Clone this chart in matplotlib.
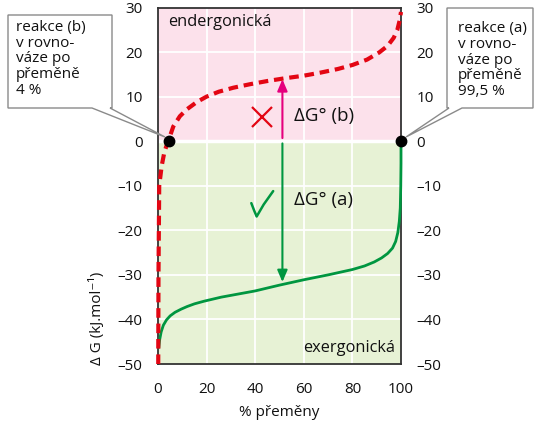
import matplotlib
matplotlib.use("Agg")
import matplotlib.pyplot as plt
from matplotlib.patches import Polygon
from matplotlib.ticker import FuncFormatter

plt.rcParams['font.family'] = ['Open Sans', 'DejaVu Sans']

# ---- data ----
pct_a = [0.3, 0.7, 1.3, 2.2, 3.5, 5, 7, 9.5, 12, 15, 19, 26, 33, 40, 50, 60, 70,
         80, 85, 89, 92, 94.5, 96.5, 97.8, 98.7, 99.3, 99.7, 99.9, 100, 100]
dg_a = [-46.5, -44.5, -42.8, -41.3, -40.1, -39.2, -38.4, -37.7, -37.1, -36.5,
        -35.9, -35.0, -34.3, -33.6, -32.3, -31.1, -30.0, -28.8, -28.0, -27.1,
        -26.2, -25.2, -24.0, -22.5, -20.5, -18.0, -15.0, -10.0, -5.0, 0.0]

pct_b = [0.1, 0.2, 0.5, 1.5, 2.6, 3.7, 4.6, 6.3, 9, 12, 16, 20, 25, 31, 38, 45, 52,
         60, 67, 74, 80, 86, 91, 94.5, 97, 98.5, 99.4, 100]
dg_b = [-50, -30, -10, -5.6, -2.5, -0.7, 0.6, 3.3, 5.6, 7.2, 8.8, 10.0, 11.1, 12.0,
        12.8, 13.5, 14.1, 14.7, 15.4, 16.2, 17.1, 18.3, 19.9, 21.4, 23.2, 25.0, 27.0, 29.0]

eq_b = (4.6, 0)       # equilibrium of reaction (b)
eq_a = (100, 0)       # equilibrium of reaction (a)
arrow_x = 51.2
dg0_b = 13.9
dg0_a = -31.6

check_x = [38.4, 39.6, 40.6, 43.5, 47.4]
check_y = [-13.9, -15.6, -16.9, -14.2, -11.2]

xticks = [0, 20, 40, 60, 80, 100]
yticks = [-50, -40, -30, -20, -10, 0, 10, 20, 30]

label_b = "reakce (b)\nv rovno-\nváze po\npřeměně\n4 %"
label_a = "reakce (a)\nv rovno-\nváze po\npřeměně\n99,5 %"

# ---- colours ----
PINK = "#fce1eb"
LGREEN = "#e7f2d5"
RED = "#e30613"
GREEN = "#009640"
MAGENTA = "#e5007d"
TXT = "#111111"

W, H = 536, 424
fig = plt.figure(figsize=(W / 100, H / 100), dpi=100)
L, R, T, B = 158, 401, 7.5, 364
ax = fig.add_axes([L / W, 1 - B / H, (R - L) / W, (B - T) / H])

def px(x, y):
    return (x / W, 1 - y / H)

ax.set_xlim(0, 100)
ax.set_ylim(-50, 30)
ax.axhspan(0, 30, color=PINK, zorder=0, lw=0)
ax.axhspan(-50, 0, color=LGREEN, zorder=0, lw=0)
for gx in xticks[1:-1]:
    ax.axvline(gx, color="white", lw=1.3, zorder=0.5)
for gy in yticks[1:-1]:
    ax.axhline(gy, color="white", lw=1.3 if gy != 0 else 2.5, zorder=0.5)

for s in ax.spines.values():
    s.set_color("#333333")
    s.set_linewidth(1.3)

ax.set_xticks(xticks)
ax.set_yticks(yticks)
fmt = FuncFormatter(lambda v, p: ("\u2013%d" % abs(v)) if v < 0 else "%d" % v)
ax.yaxis.set_major_formatter(fmt)
ax.tick_params(length=0, labelsize=11, labelright=True, pad=11, colors=TXT)
ax.tick_params(axis='x', pad=13)

# curves
ax.plot(pct_a, dg_a, color=GREEN, lw=2.0, zorder=5, clip_on=False, solid_capstyle='butt')
ax.plot(pct_b, dg_b, color=RED, lw=3.0, zorder=5, clip_on=False,
        linestyle=(0, (2.3, 1.4)))

# equilibrium dots
ax.plot([eq_b[0], eq_a[0]], [eq_b[1], eq_a[1]], 'o', color="black", ms=7.5,
        zorder=7, clip_on=False)

# arrows
ax.annotate("", xy=(arrow_x, dg0_b), xytext=(arrow_x, 0.7),
            arrowprops=dict(arrowstyle="-|>,head_length=0.7,head_width=0.3",
                            color=MAGENTA, lw=1.5, shrinkA=0, shrinkB=0), zorder=6)
ax.annotate("", xy=(arrow_x, dg0_a), xytext=(arrow_x, -0.5),
            arrowprops=dict(arrowstyle="-|>,head_length=0.7,head_width=0.3",
                            color=GREEN, lw=1.5, shrinkA=0, shrinkB=0), zorder=6)

ax.text(55.8, 5.6, "ΔG° (b)", fontsize=13.5, va="center", ha="left", color=TXT)
ax.text(55.8, -13.1, "ΔG° (a)", fontsize=13.5, va="center", ha="left", color=TXT)

# cross and check mark
ax.plot([42.6], [5.4], marker='x', ms=15, mew=1.6, color=RED, zorder=6)
ax.plot(check_x, check_y, color=GREEN, lw=1.8, zorder=6, solid_capstyle='round',
        solid_joinstyle='round')

ax.text(4.2, 26.8, "endergonická", fontsize=11.8, va="center", ha="left", color=TXT)
ax.text(97.5, -46.4, "exergonická", fontsize=11.8, va="center", ha="right", color=TXT)

fig.text(279.5 / W, 1 - 413 / H, "% přeměny", ha="center", va="center",
         fontsize=11, color=TXT)
fig.text(97 / W, 1 - 318 / H, "Δ G (kJ.mol⁻¹)", ha="center", va="center",
         rotation=90, fontsize=11, color=TXT)

# callout boxes (figure pixel coordinates)
box_b = [(8, 15), (112, 15), (112, 108), (110, 108), (165, 137), (92, 108), (8, 108)]
box_a = [(447, 8), (533, 8), (533, 108), (462, 108), (406, 137), (449, 108), (447, 108)]
for pts in (box_b, box_a):
    poly = Polygon([px(x, y) for x, y in pts], closed=True, transform=fig.transFigure,
                   facecolor="white", edgecolor="#8a8a8a", lw=1.0, zorder=10)
    fig.patches.append(poly)

fig.text(*px(16, 59), label_b, ha="left", va="center", fontsize=11,
         linespacing=1.08, color=TXT, zorder=11)
fig.text(*px(458, 60), label_a, ha="left", va="center", fontsize=11,
         linespacing=1.08, color=TXT, zorder=11)

fig.savefig("out.png", dpi=100)
